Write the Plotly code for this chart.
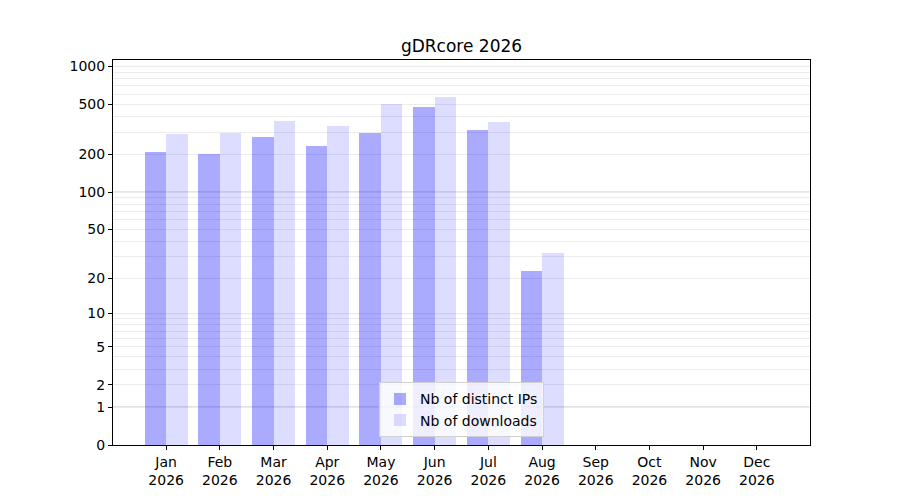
import numpy as np
import plotly.graph_objects as go

# valeurs
mois = ["Jan", "Feb", "Mar", "Apr", "May", "Jun", "Jul", "Aug", "Sep", "Oct", "Nov", "Dec"]
annee = "2026"
nb_ips = [209, 202, 275, 233, 296, 476, 313, 23, 0, 0, 0, 0]
nb_downloads = [291, 298, 369, 336, 503, 571, 362, 32, 0, 0, 0, 0]
y_ticks = [0, 1, 2, 5, 10, 20, 50, 100, 200, 500, 1000]
y_decades = [1, 10, 100, 1000]


# echelle log10(1 + x)
def tr(v):
    return np.log10(1 + np.asarray(v, dtype=float))


x = list(range(1, len(mois) + 1))
minor_vals = [d * 10 ** k for k in range(3) for d in range(2, 10)]

fig = go.Figure()
fig.add_trace(go.Bar(
    x=x, y=tr(nb_ips), width=0.4, offset=-0.4,
    marker=dict(color="rgba(0,0,255,0.333)", line=dict(width=0)),
    name="Nb of distinct IPs",
))
fig.add_trace(go.Bar(
    x=x, y=tr(nb_downloads), width=0.4, offset=0,
    marker=dict(color="rgba(0,0,255,0.135)", line=dict(width=0)),
    name="Nb of downloads",
))

# lignes plus foncees aux decades
for v in y_decades:
    fig.add_shape(type="line", xref="paper", x0=0, x1=1, yref="y",
                  y0=float(tr(v)), y1=float(tr(v)),
                  line=dict(color="#c2c2c2", width=1), layer="below")

# la page a une marge de 8px, donc figure un peu plus petite
fig.update_layout(
    width=892, height=492,
    template="plotly_white",
    plot_bgcolor="white",
    margin=dict(l=105, r=90, t=52, b=55),
    font=dict(family="DejaVu Sans", size=14, color="black"),
    title=dict(text="gDRcore 2026", xref="paper", x=0.5, xanchor="center",
               y=0.923, yanchor="middle", font=dict(size=17)),
    showlegend=True,
    legend=dict(x=0.5, xanchor="center", y=0.02, yanchor="bottom",
                bgcolor="rgba(255,255,255,0.8)", bordercolor="#d0d0d0",
                borderwidth=1, font=dict(size=14)),
    bargap=0,
    xaxis=dict(
        range=[0.01, 12.99],
        tickvals=x,
        ticktext=[m + "<br>" + annee for m in mois],
        showgrid=False, zeroline=False,
        showline=True, linecolor="black", linewidth=1, mirror=True,
        ticks="outside", ticklen=4, tickcolor="black",
    ),
    yaxis=dict(
        range=[0, 3.051],
        tickvals=tr(y_ticks),
        ticktext=[str(v) for v in y_ticks],
        showgrid=True, gridcolor="#ececec", gridwidth=1,
        zeroline=False,
        showline=True, linecolor="black", linewidth=1, mirror=True,
        ticks="outside", ticklen=4, tickcolor="black",
        minor=dict(tickvals=tr(minor_vals), showgrid=True,
                   gridcolor="#ececec", gridwidth=1, ticks=""),
    ),
)

fig.write_html("out.html")
